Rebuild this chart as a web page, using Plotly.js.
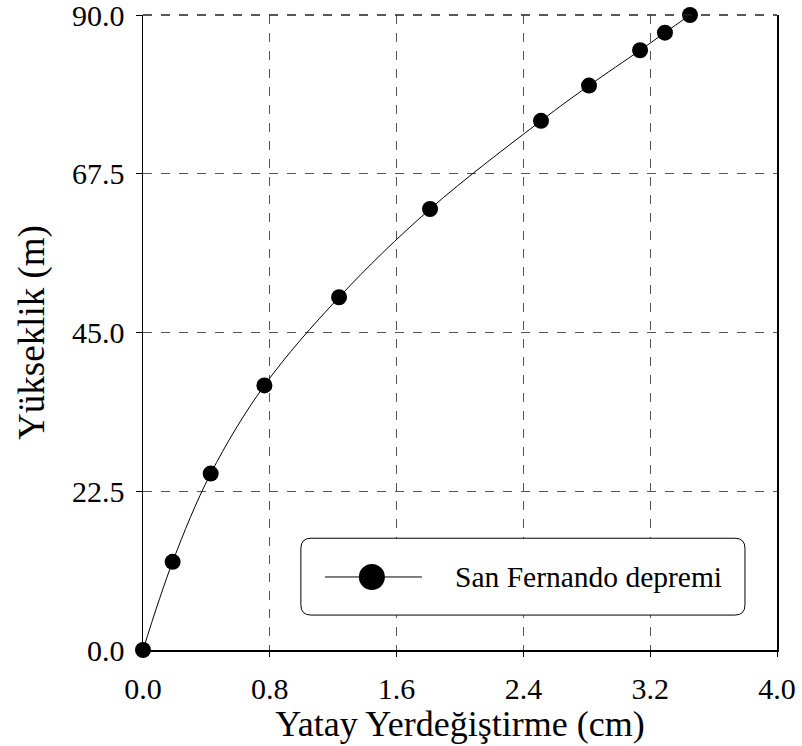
<!DOCTYPE html>
<html>
<head>
<meta charset="utf-8">
<script src="https://cdn.plot.ly/plotly-3.0.1.min.js"></script>
<style>html,body{margin:0;padding:0;background:#fff;}#chart{width:802px;height:746px;}</style>
</head>
<body>
<div id="chart"></div>
<script>
// Data
var displacement = [0.0, 0.187, 0.427, 0.766, 1.237, 1.811, 2.511, 2.814, 3.136, 3.293, 3.451];
var height = [0.0, 12.5, 25.0, 37.5, 50.0, 62.5, 75.0, 80.0, 85.0, 87.5, 90.0];
var seriesName = "San Fernando depremi";
var xTicks = [0.0, 0.8, 1.6, 2.4, 3.2, 4.0];
var xTickLabels = ["0.0", "0.8", "1.6", "2.4", "3.2", "4.0"];
var yTicks = [0.0, 22.5, 45.0, 67.5, 90.0];
var yTickLabels = ["0.0", "22.5", "45.0", "67.5", "90.0"];

var FAM = "Liberation Serif";

var trace = {
  x: displacement, y: height, name: seriesName,
  type: "scatter", mode: "lines+markers",
  line: {color: "#000", width: 1, shape: "spline", smoothing: 1},
  marker: {color: "#000", size: 16},
  showlegend: false, cliponaxis: false
};

// Legend box (drawn, rounded corners)
var lx0 = 0.249, lx1 = 0.9495, ly0 = 0.055, ly1 = 0.176, rx = 0.016, ry = 0.016;
var boxPath = "M" + (lx0 + rx) + "," + ly1 +
  " L" + (lx1 - rx) + "," + ly1 + " Q" + lx1 + "," + ly1 + " " + lx1 + "," + (ly1 - ry) +
  " L" + lx1 + "," + (ly0 + ry) + " Q" + lx1 + "," + ly0 + " " + (lx1 - rx) + "," + ly0 +
  " L" + (lx0 + rx) + "," + ly0 + " Q" + lx0 + "," + ly0 + " " + lx0 + "," + (ly0 + ry) +
  " L" + lx0 + "," + (ly1 - ry) + " Q" + lx0 + "," + ly1 + " " + (lx0 + rx) + "," + ly1 + " Z";
var legY = 0.115, legCx = 0.361;

var layout = {
  width: 802, height: 746,
  margin: {l: 143, r: 25, t: 15, b: 96},
  paper_bgcolor: "#fff", plot_bgcolor: "#fff",
  showlegend: false,
  font: {family: FAM, color: "#000", size: 30},
  xaxis: {
    range: [0, 4.0], tickvals: xTicks, ticktext: xTickLabels,
    ticks: "outside", ticklen: 5, tickcolor: "#000", tickwidth: 1,
    showline: true, linecolor: "#000", linewidth: 1.5, mirror: false,
    showgrid: true, gridcolor: "#555", griddash: "dash", gridwidth: 1,
    zeroline: false, ticklabelstandoff: 6, ticklabeloverflow: "allow",
    tickfont: {family: FAM, size: 30, color: "#000"},
    title: {text: "Yatay Yerdeğiştirme (cm)", font: {family: FAM, size: 36, color: "#000"}, standoff: 0}
  },
  xaxis2: {
    overlaying: "x", matches: "x", range: [0, 4.0], tickvals: xTicks,
    ticks: "inside", ticklen: 8, tickcolor: "#000", tickwidth: 1,
    showticklabels: false, showgrid: false, showline: false, zeroline: false
  },
  yaxis: {
    range: [0, 90], tickvals: yTicks, ticktext: yTickLabels,
    ticks: "outside", ticklen: 6, tickcolor: "#000", tickwidth: 1,
    showline: true, linecolor: "#000", linewidth: 1.5, mirror: true,
    showgrid: true, gridcolor: "#555", griddash: "dash", gridwidth: 1,
    zeroline: false, ticklabelstandoff: 5, ticklabeloverflow: "allow",
    tickfont: {family: FAM, size: 30, color: "#000"},
    title: {text: "Yükseklik (m)", font: {family: FAM, size: 37, color: "#000"}, standoff: 16}
  },
  shapes: [
    {type: "line", xref: "paper", yref: "paper", x0: 0, x1: 1, y0: 1, y1: 1,
     line: {color: "#222", width: 1.5, dash: "dash"}},
    {type: "path", xref: "paper", yref: "paper", path: boxPath,
     fillcolor: "#fff", line: {color: "#000", width: 1}, layer: "above"},
    {type: "line", xref: "paper", yref: "paper", x0: 0.287, x1: 0.44, y0: legY, y1: legY,
     line: {color: "#000", width: 1}, layer: "above"},
    {type: "circle", xref: "paper", yref: "paper", xsizemode: "pixel", ysizemode: "pixel",
     xanchor: legCx, yanchor: legY, x0: -13, x1: 13, y0: -13, y1: 13,
     fillcolor: "#000", line: {color: "#000", width: 0}, layer: "above"}
  ],
  annotations: [
    {xref: "paper", yref: "paper", x: 0.489, y: legY, xanchor: "left", yanchor: "middle",
     text: seriesName, showarrow: false, font: {family: FAM, size: 29.5, color: "#000"}}
  ]
};

Plotly.newPlot("chart", [trace], layout, {displayModeBar: false, staticPlot: true});
</script>
</body>
</html>
